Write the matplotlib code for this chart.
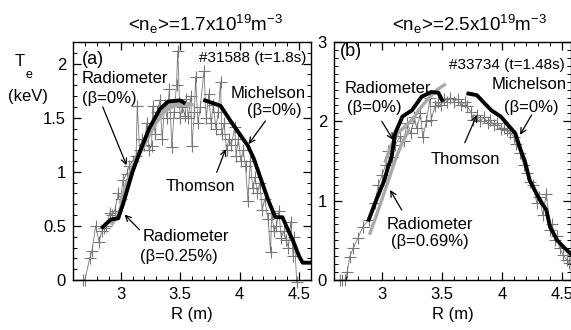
import numpy as np
import matplotlib
matplotlib.use("Agg")
import matplotlib.pyplot as plt
from matplotlib.ticker import MultipleLocator

plt.rcParams['font.family'] = ['Liberation Sans', 'DejaVu Sans']
plt.rcParams['mathtext.default'] = 'regular'

# ---------------- panel (a) data : #31588 ----------------
thomson_a_R = [2.68, 2.70, 2.74, 2.76, 2.79, 2.82, 2.84, 2.86, 2.88, 2.91, 2.93, 2.95,
               2.98, 3.00, 3.02, 3.05, 3.07, 3.10, 3.13, 3.14, 3.16, 3.18, 3.20, 3.22,
               3.24, 3.26, 3.27, 3.29, 3.31, 3.33, 3.35, 3.37, 3.39, 3.41, 3.43, 3.45,
               3.47, 3.48, 3.50, 3.52, 3.54, 3.55, 3.57, 3.59, 3.60, 3.62, 3.63, 3.65,
               3.67, 3.70, 3.72, 3.74, 3.76, 3.78, 3.80, 3.82, 3.84, 3.85, 3.87, 3.89,
               3.91, 3.93, 3.96, 3.97, 3.99, 4.01, 4.03, 4.05, 4.07, 4.09, 4.11, 4.13,
               4.15, 4.17, 4.19, 4.21, 4.24, 4.26, 4.27, 4.29, 4.31, 4.33, 4.35, 4.37,
               4.39, 4.41, 4.43, 4.45, 4.46, 4.48]
thomson_a_T = [0.00, 0.00, 0.20, 0.27, 0.50, 0.35, 0.45, 0.48, 0.50, 0.62, 0.60, 0.64,
               0.80, 0.75, 0.92, 0.98, 1.05, 1.10, 1.15, 1.61, 1.20, 1.30, 1.25, 1.45,
               1.20, 1.24, 1.61, 1.35, 1.55, 1.66, 1.30, 1.62, 1.50, 1.77, 1.23, 1.55,
               1.80, 2.12, 1.50, 1.60, 1.52, 1.67, 1.50, 1.70, 1.24, 1.55, 1.88, 1.45,
               1.60, 1.93, 1.50, 1.72, 1.45, 1.62, 1.40, 1.55, 1.83, 1.35, 1.45, 1.20,
               1.30, 1.25, 1.41, 1.15, 1.30, 1.10, 1.20, 1.05, 0.73, 1.10, 0.85, 0.95,
               0.80, 0.90, 0.65, 0.75, 0.56, 0.26, 0.62, 0.45, 0.50, 0.64, 0.39, 0.45,
               0.37, 0.30, 0.54, 0.22, 0.40, -0.02]

michelson_a1_R = [2.85, 2.92, 2.98, 3.02, 3.06, 3.10, 3.16, 3.24, 3.33, 3.40, 3.50, 3.53]
michelson_a1_T = [0.49, 0.56, 0.57, 0.70, 0.85, 1.00, 1.18, 1.40, 1.58, 1.65, 1.66, 1.64]
michelson_a2_R = [3.71, 3.84, 3.93, 4.00, 4.07, 4.12, 4.18, 4.24, 4.30, 4.36, 4.40, 4.45,
                  4.50, 4.53, 4.59]
michelson_a2_T = [1.66, 1.61, 1.46, 1.35, 1.24, 1.12, 0.93, 0.74, 0.58, 0.58, 0.48, 0.36,
                  0.22, 0.16, 0.16]

radio_a0_R = [3.00, 3.05, 3.10, 3.17, 3.25, 3.32, 3.40, 3.50, 3.58]
radio_a0_T = [0.72, 0.90, 1.05, 1.20, 1.38, 1.52, 1.62, 1.63, 1.63]
radio_a25_R = [2.93, 2.98, 3.03, 3.08, 3.13, 3.20, 3.28, 3.36, 3.45, 3.60]
radio_a25_T = [0.52, 0.60, 0.78, 0.97, 1.10, 1.25, 1.42, 1.55, 1.61, 1.62]

# ---------------- panel (b) data : #33734 ----------------
thomson_b_R = [2.65, 2.67, 2.69, 2.71, 2.73, 2.76, 2.80, 2.84, 2.89, 2.94, 2.97, 3.00,
               3.03, 3.05, 3.08, 3.11, 3.15, 3.18, 3.21, 3.24, 3.27, 3.29, 3.32, 3.34,
               3.37, 3.40, 3.41, 3.44, 3.47, 3.49, 3.52, 3.54, 3.57, 3.60, 3.63, 3.66,
               3.69, 3.71, 3.74, 3.76, 3.79, 3.82, 3.85, 3.88, 3.90, 3.93, 3.96, 3.99,
               4.02, 4.04, 4.07, 4.10, 4.12, 4.15, 4.18, 4.21, 4.23, 4.26, 4.29, 4.31,
               4.34, 4.37, 4.40, 4.42, 4.44, 4.46, 4.48, 4.51, 4.54, 4.56]
thomson_b_T = [0.00, 0.00, 0.00, 0.10, 0.29, 0.40, 0.53, 0.67, 0.76, 0.97, 1.20, 1.32,
               1.45, 1.62, 1.55, 1.70, 1.81, 1.75, 1.98, 1.85, 2.05, 1.91, 2.10, 1.80,
               2.00, 2.29, 2.02, 2.19, 2.25, 2.20, 2.28, 2.25, 2.30, 2.25, 2.28, 2.20,
               2.24, 2.19, 2.12, 2.02, 2.08, 2.00, 2.05, 1.98, 2.02, 1.95, 1.98, 1.90,
               1.92, 1.89, 1.85, 1.80, 1.72, 1.60, 1.45, 1.35, 1.24, 1.20, 0.97, 1.05,
               0.82, 1.09, 0.63, 0.70, 0.50, 0.55, 0.40, 0.32, 0.25, 0.22]

michelson_b1_R = [2.89, 2.95, 3.02, 3.05, 3.08, 3.11, 3.17, 3.25, 3.33, 3.41, 3.47, 3.50]
michelson_b1_T = [0.76, 1.00, 1.26, 1.42, 1.55, 1.85, 2.06, 2.14, 2.31, 2.37, 2.36, 2.27]
michelson_b2_R = [3.72, 3.79, 3.91, 3.99, 4.11, 4.16, 4.19, 4.23, 4.30, 4.37, 4.40, 4.46,
                  4.51, 4.58]
michelson_b2_T = [2.35, 2.33, 2.14, 2.06, 1.85, 1.62, 1.50, 1.26, 1.05, 0.88, 0.67, 0.50,
                  0.42, 0.32]

radio_b0_R = [3.03, 3.07, 3.13, 3.19, 3.25, 3.32, 3.40, 3.46, 3.52]
radio_b0_T = [1.50, 1.68, 1.85, 1.93, 2.02, 2.17, 2.31, 2.40, 2.46]
radio_b69_R = [2.90, 2.95, 3.00, 3.05, 3.11, 3.16, 3.22]
radio_b69_T = [0.59, 0.80, 1.02, 1.24, 1.51, 1.70, 1.88]

fig = plt.figure(figsize=(5.71, 3.30), dpi=100)
axa = fig.add_axes([73/571, 50/330, 238/571, 238/330])
axb = fig.add_axes([334/571, 50/330, 237/571, 238/330])

BLACK_LW = 2.8
GRAY = '#a9a9a9'
TH_KW = dict(color='#777777', lw=0.6, marker='+', ms=8, mew=0.8, clip_on=False, zorder=2)
ARROW = dict(arrowstyle='->', color='black', lw=0.9, shrinkA=0, shrinkB=0)
FS = 12

# panel (a)
axa.plot(thomson_a_R, thomson_a_T, **TH_KW)
axa.plot(radio_a25_R, radio_a25_T, color=GRAY, lw=2.4, zorder=3)
axa.plot(radio_a0_R, radio_a0_T, color=GRAY, lw=2.4, zorder=3)
axa.plot(michelson_a1_R, michelson_a1_T, color='black', lw=BLACK_LW, zorder=4)
axa.plot(michelson_a2_R, michelson_a2_T, color='black', lw=BLACK_LW, zorder=4)
axa.set_xlim(2.6, 4.6)
axa.set_ylim(0, 2.2)
axa.yaxis.set_minor_locator(MultipleLocator(0.1))
axa.set_yticks([0, 0.5, 1, 1.5, 2])
axa.set_yticklabels(['0', '0.5', '1', '1.5', '2'])

axa.text(2.675, 2.04, '(a)', fontsize=FS + 1, ha='left', va='center')
axa.text(4.56, 2.05, '#31588 (t=1.8s)', fontsize=FS - 1, ha='right', va='center')
axa.text(2.675, 1.86, 'Radiometer', fontsize=FS, ha='left', va='center')
axa.text(2.675, 1.675, '(β=0%)', fontsize=FS, ha='left', va='center')
axa.annotate('', xy=(3.05, 1.06), xytext=(2.85, 1.60), arrowprops=ARROW)
axa.text(4.56, 1.72, 'Michelson', fontsize=FS, ha='right', va='center')
axa.text(4.29, 1.566, '(β=0%)', fontsize=FS, ha='center', va='center')
axa.annotate('', xy=(4.075, 1.256), xytext=(4.217, 1.47), arrowprops=ARROW)
axa.text(3.667, 0.868, 'Thomson', fontsize=FS, ha='center', va='center')
axa.annotate('', xy=(3.883, 1.21), xytext=(3.808, 0.995), arrowprops=ARROW)
axa.text(3.183, 0.40, 'Radiometer', fontsize=FS, ha='left', va='center')
axa.text(3.167, 0.217, '(β=0.25%)', fontsize=FS, ha='left', va='center')
axa.annotate('', xy=(3.033, 0.605), xytext=(3.158, 0.465), arrowprops=ARROW)

# panel (b)
axb.plot(thomson_b_R, thomson_b_T, **TH_KW)
axb.plot(radio_b69_R, radio_b69_T, color=GRAY, lw=2.4, zorder=3)
axb.plot(radio_b0_R, radio_b0_T, color=GRAY, lw=2.4, zorder=3)
axb.plot(michelson_b1_R, michelson_b1_T, color='black', lw=BLACK_LW, zorder=4)
axb.plot(michelson_b2_R, michelson_b2_T, color='black', lw=BLACK_LW, zorder=4)
axb.set_xlim(2.6, 4.575)
axb.set_ylim(0, 3)
axb.yaxis.set_major_locator(MultipleLocator(1))
axb.yaxis.set_minor_locator(MultipleLocator(0.1))

axb.text(2.65, 2.875, '(b)', fontsize=FS + 1, ha='left', va='center')
axb.text(4.525, 2.71, '#33734 (t=1.48s)', fontsize=FS - 1, ha='right', va='center')
axb.text(2.69, 2.42, 'Radiometer', fontsize=FS, ha='left', va='center')
axb.text(2.706, 2.18, '(β=0%)', fontsize=FS, ha='left', va='center')
axb.annotate('', xy=(3.094, 1.765), xytext=(2.998, 2.0), arrowprops=ARROW)
axb.text(4.542, 2.46, 'Michelson', fontsize=FS, ha='right', va='center')
axb.text(4.242, 2.17, '(β=0%)', fontsize=FS, ha='center', va='center')
axb.annotate('', xy=(4.15, 1.83), xytext=(4.247, 2.08), arrowprops=ARROW)
axb.text(3.696, 1.513, 'Thomson', fontsize=FS, ha='center', va='center')
axb.annotate('', xy=(3.79, 2.08), xytext=(3.69, 1.73), arrowprops=ARROW)
axb.text(3.40, 0.694, 'Radiometer', fontsize=FS, ha='center', va='center')
axb.text(3.40, 0.483, '(β=0.69%)', fontsize=FS, ha='center', va='center')
axb.annotate('', xy=(3.067, 1.135), xytext=(3.164, 0.883), arrowprops=ARROW)

for ax in (axa, axb):
    ax.set_xticks([3, 3.5, 4, 4.5])
    ax.set_xticklabels(['3', '3.5', '4', '4.5'])
    ax.xaxis.set_minor_locator(MultipleLocator(0.1))
    ax.tick_params(which='both', direction='in', top=True, right=True, labelsize=FS)
    ax.tick_params(which='major', length=6, width=0.9, pad=5)
    ax.tick_params(which='minor', length=3, width=0.7)
    for sp in ax.spines.values():
        sp.set_linewidth(1.0)
    ax.set_xlabel('R (m)', fontsize=FS, labelpad=4)

fig.text(205/571, 1 - 24/330, r'<n$_e$>=1.7x10$^{19}$m$^{-3}$', fontsize=13.5,
         ha='center', va='center')
fig.text(469/571, 1 - 24/330, r'<n$_e$>=2.5x10$^{19}$m$^{-3}$', fontsize=13.5,
         ha='center', va='center')
fig.text(20/571, 1 - 62/330, 'T', fontsize=FS, ha='center', va='center')
fig.text(29/571, 1 - 75/330, 'e', fontsize=9, ha='center', va='center')
fig.text(28/571, 1 - 97/330, '(keV)', fontsize=FS, ha='center', va='center')

fig.savefig('out.png', dpi=100)
